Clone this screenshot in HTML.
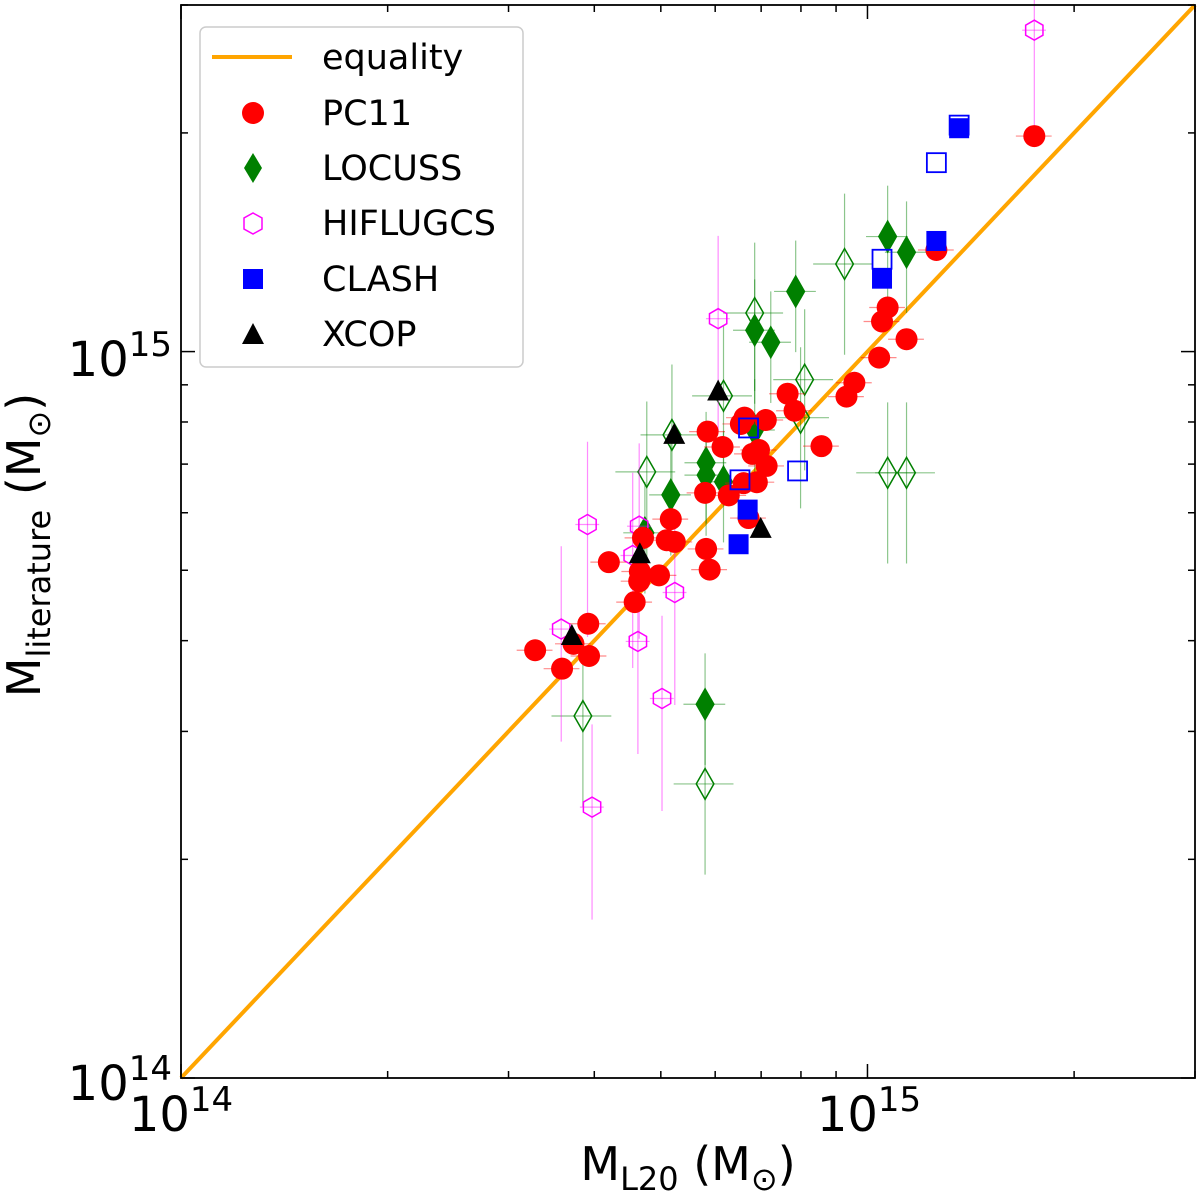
<!DOCTYPE html>
<html><head><meta charset="utf-8"><style>
body{margin:0;background:#fff}
svg{display:block;font-family:"DejaVu Sans","Liberation Sans",sans-serif}
</style></head><body>
<svg id="c" width="1200" height="1198" xmlns="http://www.w3.org/2000/svg"></svg>
<script>
// values in units of 1e14 Msun
const pc11X=[3.28,3.59,3.93,3.92,3.73,4.20,4.58,4.65,4.66,4.97,4.71,5.17,5.10,5.24,5.82,5.89,5.80,5.85,6.15,6.28,6.60,6.80,6.54,6.62,7.11,6.95,7.13,6.90,6.71,7.65,7.83,8.57,9.32,9.57,10.4,10.5,10.7,11.4,12.6,17.5];
const pc11Y=[3.88,3.66,3.81,4.22,3.96,5.13,4.52,4.83,4.98,4.92,5.54,5.88,5.50,5.47,5.35,5.01,6.39,7.76,7.39,6.34,6.59,7.23,7.95,8.11,8.05,7.32,6.96,6.61,5.90,8.75,8.29,7.41,8.67,9.06,9.81,11.0,11.5,10.4,13.8,19.8];
const locFX=[4.74,5.17,5.82,5.82,6.17,6.85,7.23,7.86,10.7,11.4,5.80,6.85];
const locFY=[5.63,6.35,7.03,6.76,6.62,10.7,10.3,12.1,14.4,13.7,3.27,7.80];
const locHX=[4.77,5.19,6.17,6.85,8.10,7.99,9.26,10.7,11.4,3.85,5.80];
const locHY=[6.83,7.68,8.69,11.3,9.15,8.11,13.2,6.81,6.81,3.15,2.54];
const hifX=[17.5,6.06,3.91,3.58,4.65,4.55,4.63,5.24,5.02,3.97];
const hifY=[27.7,11.1,5.78,4.15,5.75,5.24,3.99,4.66,3.33,2.36];
const clFX=[13.6,12.6,10.5,6.69,6.49];
const clFY=[20.3,14.2,12.6,6.06,5.43];
const clHX=[13.6,12.6,10.5,7.91,6.52,6.71];
const clHY=[20.5,18.2,13.4,6.85,6.66,7.85];
const xcX=[3.71,4.66,5.23,6.06,6.99];
const xcY=[4.06,5.26,7.68,8.81,5.70];
const locErrX=0.1, locErrY=0.25, hifErrY=0.3, pcErrX=0.06;

const L=181,R=1195,T=5,B=1078;
const lmin=0,lmax=Math.log10(30);
const X=v=>L+(Math.log10(v)-lmin)/(lmax-lmin)*(R-L);
const Y=v=>B-(Math.log10(v)-lmin)/(lmax-lmin)*(B-T);
const svg=document.getElementById('c');
const NS='http://www.w3.org/2000/svg';
function el(t,a,p){const e=document.createElementNS(NS,t);for(const k in a)e.setAttribute(k,a[k]);(p||svg).appendChild(e);return e;}

const tg=el('g',{});


for(let d of [1,10]){for(let m=1;m<10;m++){const v=d*m;if(v>30)break;const major=m===1;const len=major?14:7;
 const x=X(v),y=Y(v);
 el('line',{x1:x,y1:B,x2:x,y2:B-len,stroke:'#000','stroke-width':1.5},tg);
 el('line',{x1:x,y1:T,x2:x,y2:T+len,stroke:'#000','stroke-width':1.5},tg);
 el('line',{x1:L,y1:y,x2:L+len,y2:y,stroke:'#000','stroke-width':1.5},tg);
 el('line',{x1:R,y1:y,x2:R-len,y2:y,stroke:'#000','stroke-width':1.5},tg);}}

const eq=el('line',{x1:X(1),y1:Y(1),x2:X(30),y2:Y(30),stroke:'#FFA500','stroke-width':4});



function err(x,y,fx,fy,col,g){
 if(fx)el('line',{x1:X(x*(1-fx)),y1:Y(y),x2:X(x*(1+fx)),y2:Y(y),stroke:col,'stroke-width':1.2,opacity:0.45},g);
 if(fy)el('line',{x1:X(x),y1:Y(y*(1-fy)),x2:X(x),y2:Y(y*(1+fy)),stroke:col,'stroke-width':1.2,opacity:0.45},g);}
function diamond(x,y,s,fill,g){const px=X(x),py=Y(y);return el('polygon',{points:`${px},${py-s*1.4} ${px+s*0.8},${py} ${px},${py+s*1.4} ${px-s*0.8},${py}`,fill:fill?'green':'none',stroke:'green','stroke-width':1.5},g);}
function hexa(x,y,r,g){const px=X(x),py=Y(y);let p=[];for(let i=0;i<6;i++){const a=Math.PI/6+i*Math.PI/3;p.push((px+r*Math.cos(a))+','+(py+r*Math.sin(a)));}return el('polygon',{points:p.join(' '),fill:'none',stroke:'magenta','stroke-width':1.5},g);}

const gL=el('g',{});
locHX.forEach((x,i)=>{err(x,locHY[i],locErrX,locErrY,'green',gL);const m=diamond(x,locHY[i],11,false,gL);});
locFX.forEach((x,i)=>{err(x,locFY[i],locErrX*0.7,locErrY*0.7,'green',gL);const m=diamond(x,locFY[i],11,true,gL);});
const gH=el('g',{});
hifX.forEach((x,i)=>{err(x,hifY[i],0.04,hifErrY,'magenta',gH);const m=hexa(x,hifY[i],10,gH);});
const gP=el('g',{});
pc11X.forEach((x,i)=>{err(x,pc11Y[i],pcErrX,0,'red',gP);const m=el('circle',{cx:X(x),cy:Y(pc11Y[i]),r:11,fill:'red'},gP);});
const gC=el('g',{});
clHX.forEach((x,i)=>{const m=el('rect',{x:X(x)-9.5,y:Y(clHY[i])-9.5,width:19,height:19,fill:'none',stroke:'blue','stroke-width':1.8},gC);});
clFX.forEach((x,i)=>{const m=el('rect',{x:X(x)-10,y:Y(clFY[i])-10,width:20,height:20,fill:'blue'},gC);});
const gX=el('g',{});
xcX.forEach((x,i)=>{const px=X(x),py=Y(xcY[i]);const m=el('polygon',{points:`${px},${py-12} ${px+11},${py+9} ${px-11},${py+9}`,fill:'black'},gX);});
</script>
<svg width="1200" height="1198" style="position:absolute;left:0;top:0" xmlns="http://www.w3.org/2000/svg" font-family="DejaVu Sans, Liberation Sans, sans-serif">
<rect x="181" y="5" width="1014" height="1073" fill="none" stroke="#000" stroke-width="1.8"/>
<g font-size="48">
<text x="181" y="1131" text-anchor="middle">10<tspan font-size="34" dy="-20">14</tspan></text>
<text x="869" y="1131" text-anchor="middle">10<tspan font-size="34" dy="-20">15</tspan></text>
</g>
<g font-size="48">
<text x="172" y="1100" text-anchor="end">10<tspan font-size="34" dy="-20">14</tspan></text>
<text x="172" y="376" text-anchor="end">10<tspan font-size="34" dy="-20">15</tspan></text>
</g>
<text x="688" y="1180" text-anchor="middle" font-size="46">M<tspan font-size="32" dy="10">L20</tspan><tspan dy="-10"> (M</tspan><tspan font-size="32" dy="10">⊙</tspan><tspan dy="-10">)</tspan></text>
<text transform="translate(40,545) rotate(-90)" text-anchor="middle" font-size="46">M<tspan font-size="32" dy="10">literature</tspan><tspan dy="-10"> (M</tspan><tspan font-size="32" dy="10">⊙</tspan><tspan dy="-10">)</tspan></text>
<g font-size="35">
<rect x="200" y="27" width="323" height="340" rx="6" fill="#fff" fill-opacity="0.85" stroke="#ccc" stroke-width="1.5"/>
<g><line x1="212" y1="57" x2="292" y2="57" stroke="#FFA500" stroke-width="4"/><text x="322" y="69">equality</text></g>
<g><circle cx="253" cy="113" r="11" fill="red"/><text x="322" y="125">PC11</text></g>
<g><polygon points="253,153 262,168 253,183 244,168" fill="green"/><text x="322" y="180">LOCUSS</text></g>
<g><polygon points="262,229 262,218 253,213 244,218 244,229 253,234" fill="none" stroke="magenta" stroke-width="1.5"/><text x="322" y="235">HIFLUGCS</text></g>
<g><rect x="243" y="269" width="20" height="20" fill="blue"/><text x="322" y="291">CLASH</text></g>
<g><polygon points="253,323 264,344 242,344" fill="black"/><text x="322" y="346">XCOP</text></g>
</g>
</svg>
</body></html>
